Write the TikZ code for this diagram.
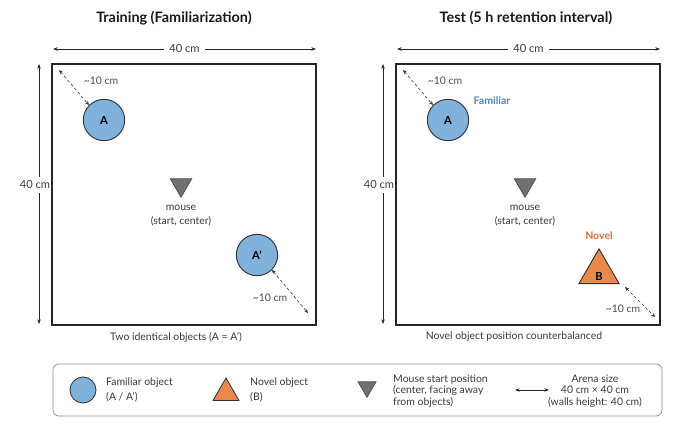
\documentclass[tikz,border=0pt]{standalone}
\usepackage{fontspec}
\setmainfont{Lato}
\usetikzlibrary{shapes.geometric,arrows.meta}
\definecolor{famblue}{HTML}{80B1DA}
\definecolor{novorange}{HTML}{E98A4C}
\definecolor{mousegray}{HTML}{707070}
\definecolor{famtext}{HTML}{4F87BF}
\definecolor{novtext}{HTML}{E2733A}
\definecolor{txtgray}{HTML}{3A3A3A}
\tikzset{
  arena/.style={draw=black!85,line width=1.4pt},
  famobj/.style={circle,draw=black!80,fill=famblue,line width=0.8pt,minimum size=1.24cm,inner sep=0pt,font=\bfseries\fontsize{9.5}{10}\selectfont,text=black},
  novobj/.style={regular polygon,regular polygon sides=3,draw=black!80,fill=novorange,line width=0.8pt,minimum size=1.39cm,inner sep=0pt},
  mousetri/.style={regular polygon,regular polygon sides=3,shape border rotate=180,draw=black!70,fill=mousegray,line width=0.6pt,minimum size=0.74cm,inner sep=0pt},
  dimline/.style={{Stealth[length=4pt,width=3pt]}-{Stealth[length=4pt,width=3pt]},line width=0.5pt,black!85},
  gapline/.style={{Stealth[length=3.5pt,width=3pt]}-{Stealth[length=3.5pt,width=3pt]},dash pattern=on 2.5pt off 2pt,line width=0.5pt,black!80},
  smalltxt/.style={font=\fontsize{8.9}{10.5}\selectfont,text=txtgray},
  titletxt/.style={font=\bfseries\fontsize{12.3}{14}\selectfont,text=black!90}
}
\begin{document}
\begin{tikzpicture}[x=0.03cm,y=-0.03cm,every node/.style={smalltxt}]
\useasboundingbox (0,0) rectangle (700,439);
% the two arenas (training, test)
\foreach \idx/\xs in {0/0,1/344} {
  \begin{scope}[xshift=\xs*0.03cm]
  \draw[arena] (52,64) rectangle (316,325);
  \coordinate (topL\idx) at (53,49);
  \coordinate (topR\idx) at (316,49);
  \draw[dimline] (topL\idx) -- (topR\idx) node[midway,fill=white,inner xsep=5pt,font=\fontsize{9.5}{10}\selectfont] {40 cm};
  \coordinate (sideT\idx) at (39,64);
  \coordinate (sideB\idx) at (39,324);
  \draw[dimline] (sideT\idx) -- (sideB\idx) node[pos=0.465,fill=white,inner xsep=1pt,xshift=-0.12cm,font=\fontsize{9.5}{10}\selectfont] {40 cm};
  \node[mousetri] (mouse\idx) at (181,185) {};
  \node[align=center,inner sep=0pt,font=\fontsize{8.9}{12}\selectfont] (mouselab\idx) at (181,216) {mouse\\(start, center)};
  \node[famobj] (objA\idx) at (104,120) {A};
  \coordinate (cornerTL\idx) at (59,70);
  \draw[gapline] (cornerTL\idx) -- (objA\idx.135);
  \node[text=black!70] (gapA\idx) at (101,81) {\textasciitilde10 cm};
  \end{scope}
}
% training: second familiar object
\node[titletxt] (ttltrain) at (174,18) {Training (Familiarization)};
\node[famobj] (objAp) at (257,255) {A'};
\coordinate (cornerBR0) at (308,313);
\draw[gapline] (objAp.-45) -- (cornerBR0);
\node[text=black!70] (gapAp) at (270,298) {\textasciitilde10 cm};
\node (captrain) at (176,337) {Two identical objects (A = A')};
% test: familiar + novel object
\node[titletxt] (ttltest) at (526,18) {Test (5 h retention interval)};
\node[font=\bfseries\fontsize{9}{10}\selectfont,text=famtext] (famlab) at (492,101) {Familiar};
\node[novobj] (objB) at (599,272) {};
\node[font=\bfseries\fontsize{9.5}{10}\selectfont,text=black] (objBlab) at (599,276) {B};
\node[font=\bfseries\fontsize{9}{10}\selectfont,text=novtext] (novlab) at (599,236) {Novel};
\coordinate (objBgap) at (625,287);
\coordinate (cornerBR1) at (655,317);
\draw[gapline] (objBgap) -- (cornerBR1);
\node[text=black!70] (gapB) at (623,309) {\textasciitilde10 cm};
\node (captest) at (514,337) {Novel object position counterbalanced};
% legend
\draw[black!45,line width=0.6pt,rounded corners=5pt] (53,364) rectangle (662,416);
\node[famobj,minimum size=0.78cm,line width=0.7pt] (lgfam) at (83,390) {};
\node[anchor=west,align=left,inner xsep=0pt] (lgfamtxt) at (106,390) {Familiar object\\[2pt](A / A')};
\node[novobj,minimum size=0.9cm,line width=0.7pt] (lgnov) at (226,393) {};
\node[anchor=west,align=left,inner xsep=0pt] (lgnovtxt) at (250,390) {Novel object\\[2pt](B)};
\node[mousetri,minimum size=0.62cm] (lgmouse) at (367,387) {};
\node[anchor=west,align=left,inner xsep=0pt,font=\fontsize{8.9}{9.6}\selectfont] (lgmousetxt) at (393,391) {Mouse start position\\(center, facing away\\from objects)};
\coordinate (lgarrL) at (515,390);
\coordinate (lgarrR) at (549,390);
\draw[dimline] (lgarrL) -- (lgarrR);
\node[align=center,font=\fontsize{8.9}{9.6}\selectfont] (lgarena) at (595,391) {Arena size\\40 cm × 40 cm\\(walls height: 40 cm)};
\end{tikzpicture}
\end{document}
